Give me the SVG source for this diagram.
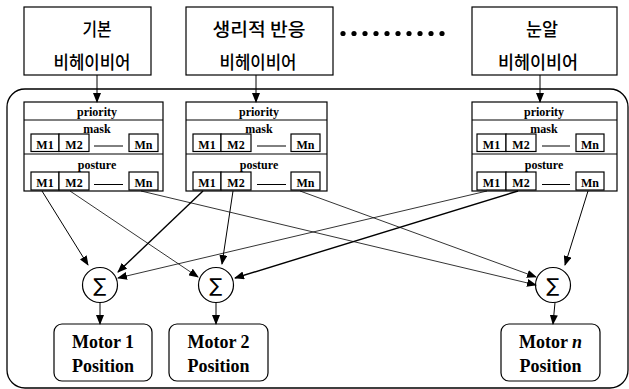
<svg xmlns="http://www.w3.org/2000/svg" width="629" height="389" viewBox="0 0 629 389">
<style>
.box{fill:#fff;stroke:#000;stroke-width:1.2}
.ln{stroke:#000;stroke-width:1;fill:none}
.kr{font-family:"Noto Sans CJK KR","Noto Sans",sans-serif;font-size:18px;font-weight:500;fill:#000;text-anchor:middle}
.sm{font-family:"Liberation Serif","Times New Roman",serif;font-weight:bold;font-size:12px;fill:#000;text-anchor:middle}
.mt{font-family:"Liberation Serif","Times New Roman",serif;font-weight:bold;font-size:18px;fill:#000;text-anchor:middle}
.sig{font-family:"DejaVu Sans",sans-serif;font-size:19px;fill:#000;text-anchor:middle}
.c{stroke:#000;fill:none}
</style>
<defs>
<marker id="ah" markerUnits="userSpaceOnUse" markerWidth="10" markerHeight="8" refX="9" refY="4" orient="auto" viewBox="0 0 10 8">
<path d="M0,0 L10,4 L0,8 Z" fill="#000"/>
</marker>
</defs>
<rect width="629" height="389" fill="#fff"/>
<rect x="7" y="89" width="621" height="299" rx="18" ry="18" fill="none" stroke="#000" stroke-width="1.3"/>

<g id="box-basic">
<rect class="box" x="24" y="7" width="127" height="68"/>
<text class="kr" x="97" y="36" textLength="29" lengthAdjust="spacingAndGlyphs">기본</text>
<text class="kr" x="92" y="68.5" textLength="77" lengthAdjust="spacingAndGlyphs">비헤이비어</text>
</g>
<g id="box-physio">
<rect class="box" x="186" y="7" width="147" height="68"/>
<text class="kr" x="259" y="36" textLength="93" lengthAdjust="spacingAndGlyphs">생리적 반응</text>
<text class="kr" x="258" y="68.5" textLength="77" lengthAdjust="spacingAndGlyphs">비헤이비어</text>
</g>
<g id="dots">
<circle cx="343" cy="33.5" r="2.6"/><circle cx="354" cy="33.5" r="2.6"/><circle cx="365" cy="33.5" r="2.6"/><circle cx="376" cy="33.5" r="2.6"/><circle cx="387" cy="33.5" r="2.6"/><circle cx="398" cy="33.5" r="2.6"/><circle cx="409" cy="33.5" r="2.6"/><circle cx="420" cy="33.5" r="2.6"/><circle cx="431" cy="33.5" r="2.6"/><circle cx="442" cy="33.5" r="2.6"/>
</g>
<g id="box-eye">
<rect class="box" x="472" y="7" width="145" height="68"/>
<text class="kr" x="542" y="36" textLength="32" lengthAdjust="spacingAndGlyphs">눈알</text>
<text class="kr" x="538" y="68.5" textLength="80" lengthAdjust="spacingAndGlyphs">비헤이비어</text>
</g>

<g id="module-1">
<rect class="box" x="24" y="102" width="139" height="89"/>
<line class="ln" x1="24" y1="120" x2="163" y2="120"/>
<line class="ln" x1="24" y1="154" x2="163" y2="154" stroke-width="1.6"/>
<text class="sm" x="97" y="116">priority</text>
<rect class="box" x="31" y="134" width="28" height="17.5"/>
<rect class="box" x="59" y="134" width="30" height="17.5"/>
<rect class="box" x="129" y="134" width="29" height="17.5"/>
<text class="sm" x="97" y="132.5">mask</text>
<line class="ln" x1="94" y1="146" x2="123" y2="146"/>
<text class="sm" x="45" y="148.5">M1</text><text class="sm" x="74" y="148.5">M2</text><text class="sm" x="143.5" y="148.5">Mn</text>
<text class="sm" x="97" y="169">posture</text>
<rect class="box" x="31" y="172" width="28" height="18"/>
<rect class="box" x="59" y="172" width="30" height="18"/>
<rect class="box" x="129" y="172" width="29" height="18"/>
<line class="ln" x1="94" y1="184.5" x2="123" y2="184.5"/>
<text class="sm" x="45" y="186.5">M1</text><text class="sm" x="74" y="186.5">M2</text><text class="sm" x="143.5" y="186.5">Mn</text>
</g>

<g id="module-2">
<rect class="box" x="186" y="102" width="141" height="89"/>
<line class="ln" x1="186" y1="120" x2="327" y2="120"/>
<line class="ln" x1="186" y1="154" x2="327" y2="154" stroke-width="1.6"/>
<text class="sm" x="259" y="116">priority</text>
<rect class="box" x="193" y="134" width="28" height="17.5"/>
<rect class="box" x="221" y="134" width="30" height="17.5"/>
<rect class="box" x="291" y="134" width="29" height="17.5"/>
<text class="sm" x="259" y="132.5">mask</text>
<line class="ln" x1="257" y1="146" x2="286" y2="146"/>
<text class="sm" x="207" y="148.5">M1</text><text class="sm" x="236" y="148.5">M2</text><text class="sm" x="305.5" y="148.5">Mn</text>
<text class="sm" x="259" y="169">posture</text>
<rect class="box" x="193" y="172" width="28" height="18"/>
<rect class="box" x="221" y="172" width="30" height="18"/>
<rect class="box" x="291" y="172" width="29" height="18"/>
<line class="ln" x1="257" y1="184.5" x2="286" y2="184.5"/>
<text class="sm" x="207" y="186.5">M1</text><text class="sm" x="236" y="186.5">M2</text><text class="sm" x="305.5" y="186.5">Mn</text>
</g>

<g id="module-n">
<rect class="box" x="472" y="102" width="145" height="89"/>
<line class="ln" x1="472" y1="120" x2="617" y2="120"/>
<line class="ln" x1="472" y1="154" x2="617" y2="154" stroke-width="1.6"/>
<text class="sm" x="544" y="116">priority</text>
<rect class="box" x="477" y="134" width="29" height="17.5"/>
<rect class="box" x="506" y="134" width="30" height="17.5"/>
<rect class="box" x="576" y="134" width="28" height="17.5"/>
<text class="sm" x="544" y="132.5">mask</text>
<line class="ln" x1="542" y1="146" x2="570" y2="146"/>
<text class="sm" x="491.5" y="148.5">M1</text><text class="sm" x="521" y="148.5">M2</text><text class="sm" x="590" y="148.5">Mn</text>
<text class="sm" x="544" y="169">posture</text>
<rect class="box" x="477" y="172" width="29" height="18"/>
<rect class="box" x="506" y="172" width="30" height="18"/>
<rect class="box" x="576" y="172" width="28" height="18"/>
<line class="ln" x1="542" y1="184.5" x2="570" y2="184.5"/>
<text class="sm" x="491.5" y="186.5">M1</text><text class="sm" x="521" y="186.5">M2</text><text class="sm" x="590" y="186.5">Mn</text>
</g>

<g id="sum-1"><circle class="box" cx="100" cy="285" r="17.5"/><text class="sig" x="100" y="292">∑</text></g>
<g id="sum-2"><circle class="box" cx="216" cy="285" r="17.5"/><text class="sig" x="216" y="292">∑</text></g>
<g id="sum-n"><circle class="box" cx="553" cy="285" r="17.5"/><text class="sig" x="553" y="292">∑</text></g>

<g id="motor-1"><rect class="box" x="54" y="324" width="98" height="57" rx="8"/><text class="mt" x="103" y="348">Motor 1</text><text class="mt" x="103" y="372">Position</text></g>
<g id="motor-2"><rect class="box" x="169" y="324" width="99" height="57" rx="8"/><text class="mt" x="218.5" y="348">Motor 2</text><text class="mt" x="218.5" y="372">Position</text></g>
<g id="motor-n"><rect class="box" x="501" y="324" width="99" height="57" rx="8"/><text class="mt" x="550.5" y="348">Motor <tspan font-style="italic">n</tspan></text><text class="mt" x="550.5" y="372">Position</text></g>

<g id="connectors">
<line class="c" stroke-width="1" x1="97" y1="75" x2="97" y2="102" marker-end="url(#ah)"/>
<line class="c" stroke-width="1" x1="256" y1="75" x2="256" y2="102" marker-end="url(#ah)"/>
<line class="c" stroke-width="1" x1="540" y1="75" x2="540" y2="102" marker-end="url(#ah)"/>

<line class="c" stroke-width="1" x1="42" y1="191" x2="88" y2="265" marker-end="url(#ah)"/>
<line class="c" stroke-width="0.8" x1="70" y1="191" x2="198" y2="277" marker-end="url(#ah)"/>
<line class="c" stroke-width="0.8" x1="141" y1="191" x2="536" y2="285" marker-end="url(#ah)"/>
<line class="c" stroke-width="1.4" x1="203" y1="191" x2="118" y2="272" marker-end="url(#ah)"/>
<line class="c" stroke-width="1" x1="233" y1="191" x2="222" y2="264" marker-end="url(#ah)"/>
<line class="c" stroke-width="0.8" x1="300" y1="191" x2="536" y2="277" marker-end="url(#ah)"/>
<line class="c" stroke-width="0.8" x1="487" y1="191" x2="118" y2="278" marker-end="url(#ah)"/>
<line class="c" stroke-width="1.4" x1="518" y1="191" x2="235" y2="278" marker-end="url(#ah)"/>
<line class="c" stroke-width="1" x1="588" y1="191" x2="565" y2="265" marker-end="url(#ah)"/>

<line class="c" stroke-width="1" x1="100" y1="302.5" x2="100" y2="324" marker-end="url(#ah)"/>
<line class="c" stroke-width="1" x1="216" y1="302.5" x2="216" y2="324" marker-end="url(#ah)"/>
<line class="c" stroke-width="1" x1="555" y1="302.5" x2="553" y2="324" marker-end="url(#ah)"/>
</g>
</svg>
